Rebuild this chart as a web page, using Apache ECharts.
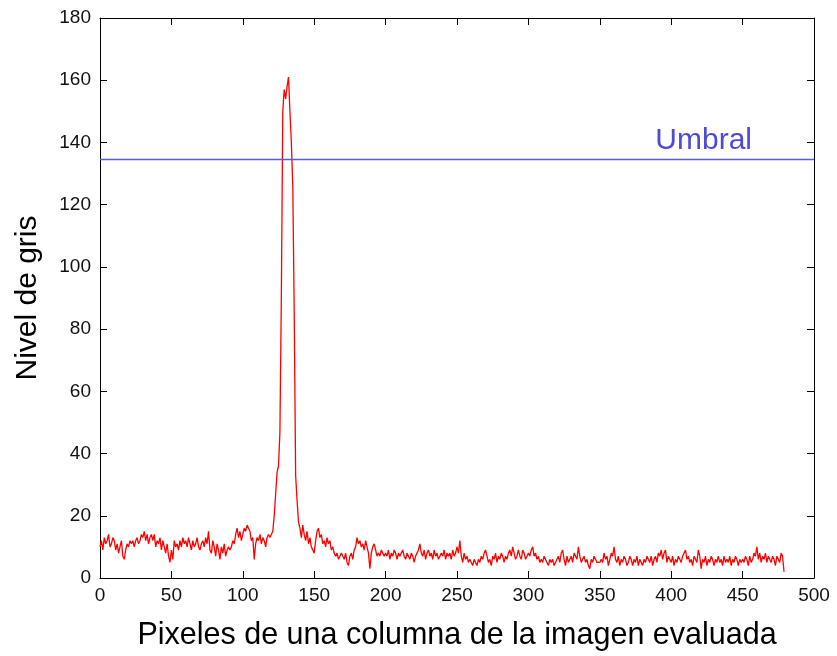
<!DOCTYPE html>
<html>
<head>
<meta charset="utf-8">
<script src="https://cdn.jsdelivr.net/npm/echarts@6/dist/echarts.min.js"></script>
<style>html,body{margin:0;padding:0;background:#fff}#c{width:837px;height:656px}</style>
</head>
<body>
<div id="c"></div>
<script>
// Gray level along one column of the evaluated image
const greyLevel = [
  10,12,9,13,11,12,14,10,11,13,
  12,9,11,8,10,12,7,6,9,11,
  10,12,11,12,10,12,13,11,12,14,
  13,15,12,14,11,13,14,12,14,10,
  12,11,13,9,12,10,8,11,7,5,
  9,6,12,10,11,9,12,10,13,11,
  12,10,13,11,9,12,10,11,13,10,
  9,11,12,10,13,11,15,9,8,12,
  10,7,11,9,6,10,8,11,7,9,
  10,9,10,12,11,14,16,13,15,12,
  14,16,15,17,16,15,12,13,6,11,
  13,12,14,11,13,12,10,13,14,13,
  14,15,20,27,34,36,47,91,150,157,
  154,158,161,150,140,126,86,33,25,18,
  16,13,17,14,12,15,11,13,10,9,
  8,12,15,16,13,14,11,12,10,13,
  11,12,9,10,8,7,8,6,7,8,
  7,6,8,5,4,7,8,6,9,10,
  13,11,12,10,11,9,12,10,8,3,
  8,10,11,9,7,8,7,9,8,7,
  8,7,9,6,8,7,9,8,6,8,
  7,8,9,7,6,8,7,6,8,7,
  5,7,8,9,11,8,7,9,6,8,
  9,7,8,6,9,7,8,6,7,8,
  7,9,6,8,7,8,6,9,7,8,
  10,8,12,7,5,8,6,7,5,6,
  5,4,6,5,4,6,5,7,6,8,
  9,7,5,6,4,7,6,8,5,7,
  6,8,7,5,7,6,8,9,7,10,
  8,6,7,9,7,6,9,8,6,7,
  8,7,9,10,7,8,6,7,5,6,
  5,7,6,5,4,6,5,6,4,5,
  6,7,5,8,9,6,4,7,5,6,
  7,5,8,7,6,10,7,5,6,7,
  5,6,4,3,6,5,7,6,5,5,
  5,6,5,8,6,7,4,6,8,7,
  10,6,5,7,4,6,5,7,6,4,
  5,7,6,4,6,5,7,4,6,5,
  4,6,5,7,6,5,7,4,6,7,
  5,8,7,9,6,8,9,5,7,6,
  5,7,4,6,5,7,6,5,7,8,
  9,6,7,5,6,4,7,6,5,9,
  7,3,6,5,7,4,6,5,7,6,
  4,6,5,7,5,6,4,7,5,6,
  5,7,4,6,5,7,6,4,6,5,
  6,5,7,6,4,7,5,6,8,7,
  10,6,8,5,7,6,8,5,7,6,
  5,7,6,4,7,6,5,8,7,2
];
const pixelIndex = greyLevel.map((_, i) => i);
const thresholdValue = 134.5;
const thresholdLabel = 'Umbral';
const xTitle = 'Pixeles de una columna de la imagen evaluada';
const yTitle = 'Nivel de gris';

const chart = echarts.init(document.getElementById('c'), null, {renderer: 'canvas'});
const axisCommon = () => ({
  axisLine: {show: true, onZero: false, lineStyle: {color: '#000', width: 1}},
  axisTick: {show: true, inside: true, length: 7, lineStyle: {color: '#000'}},
  splitLine: {show: false}
});
const font = 'Arial, "Liberation Sans", sans-serif';
chart.setOption({
  animation: false,
  backgroundColor: '#fff',
  grid: {left: 100, right: 23, top: 18, bottom: 77, containLabel: false},
  xAxis: [
    Object.assign({type: 'value', min: 0, max: 500, interval: 50,
      name: xTitle, nameLocation: 'middle', nameGap: 42,
      nameTextStyle: {fontSize: 30.5, color: '#000', fontFamily: font},
      axisLabel: {fontSize: 19, color: '#111', fontFamily: font, margin: 8}}, axisCommon()),
    Object.assign({type: 'value', min: 0, max: 500, interval: 50, position: 'top',
      axisLabel: {show: false}}, axisCommon())
  ],
  yAxis: [
    Object.assign({type: 'value', min: 0, max: 180, interval: 20,
      name: yTitle, nameLocation: 'middle', nameGap: 57,
      nameTextStyle: {fontSize: 30, color: '#000', fontFamily: font},
      axisLabel: {fontSize: 19, color: '#111', fontFamily: font, margin: 9}}, axisCommon()),
    Object.assign({type: 'value', min: 0, max: 180, interval: 20, position: 'right',
      axisLabel: {show: false}}, axisCommon())
  ],
  series: [{
    type: 'line',
    xAxisIndex: 0,
    yAxisIndex: 0,
    data: pixelIndex.map((x, i) => [x, greyLevel[i]]),
    showSymbol: false,
    symbol: 'none',
    lineStyle: {color: '#ff0000', width: 1.3},
    itemStyle: {color: '#ff0000'},
    markLine: {
      silent: true,
      symbol: ['none', 'none'],
      lineStyle: {color: '#5a5ae6', width: 1.3, type: 'solid', opacity: 1},
      label: {show: true, position: 'insideEndTop', formatter: thresholdLabel,
        color: '#4b4bd8', fontSize: 30, fontFamily: font, distance: [62, 4]},
      data: [{yAxis: thresholdValue, lineStyle: {color: '#5a5ae6', width: 1.3, type: 'solid'}}]
    }
  }]
});
</script>
</body>
</html>
